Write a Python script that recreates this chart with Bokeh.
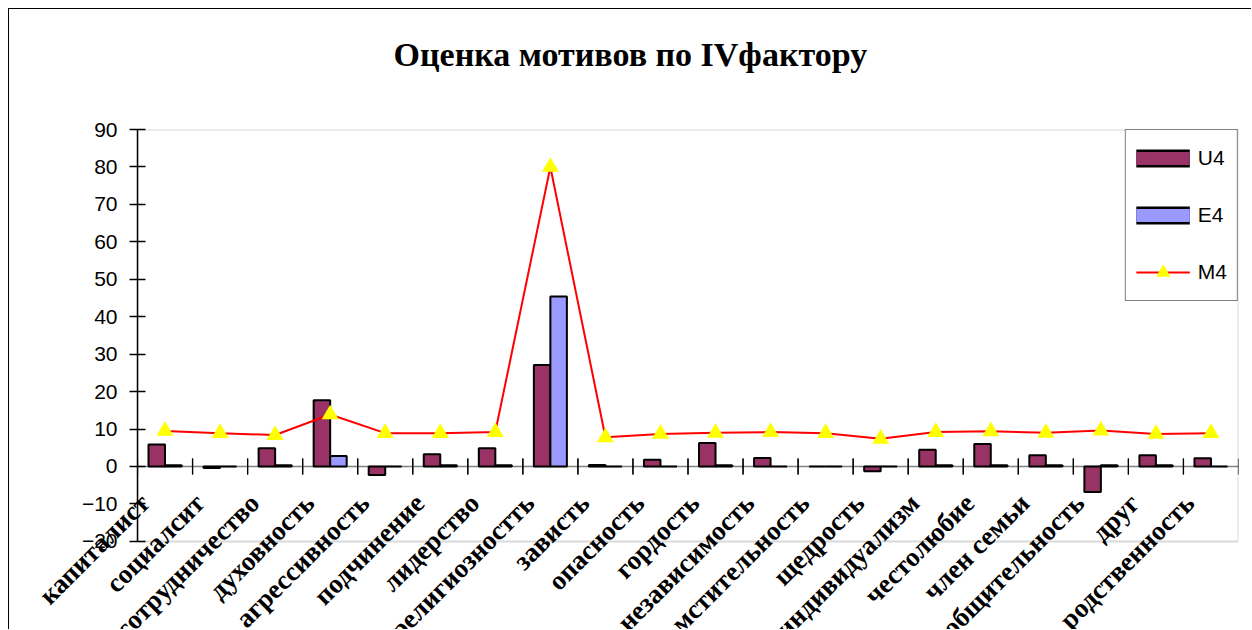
import math
from bokeh.plotting import figure
from bokeh.models import (ColumnDataSource, FactorRange, Range1d, BoxAnnotation, Title,
                          SingleIntervalTicker, Legend, LegendItem, Span)
try:
    from bokeh.models import HTMLLabelSet as CatLabelSet
except ImportError:
    from bokeh.models import LabelSet as CatLabelSet
from bokeh.core.properties import value
from bokeh.transform import dodge
from bokeh.embed import file_html
from bokeh.resources import INLINE

title_text = "Оценка мотивов по IVфактору"

categories = ["капиталист", "социалсит", "сотрудничество", "духовность", "агрессивность",
              "подчинение", "лидерство", "религиозностть", "зависть", "опасность",
              "гордость", "независимость", "мстительность", "щедрость", "индивидуализм",
              "честолюбие", "член семьи", "общительность", "друг", "родственность"]

u4 = [5.9, -0.4, 4.9, 17.7, -2.3, 3.3, 4.9, 27.1, 0.4, 1.8,
      6.3, 2.3, 0.0, -1.3, 4.5, 6.0, 3.0, -6.8, 3.0, 2.2]
e4 = [0.3, 0.0, 0.3, 2.8, 0.0, 0.3, 0.3, 45.4, 0.0, 0.0,
      0.3, 0.0, 0.0, 0.0, 0.3, 0.3, 0.3, 0.3, 0.3, 0.0]
m4 = [9.5, 8.9, 8.4, 13.9, 8.9, 8.9, 9.2, 80.0, 7.8, 8.7,
      9.0, 9.2, 8.9, 7.4, 9.2, 9.4, 9.0, 9.6, 8.7, 8.9]

series_names = ["U4", "E4", "M4"]
y_min, y_max, y_step = -20, 90, 10
y_view_bottom = -43.8   # room under the axis for the hanging category labels

U4_COLOR, E4_COLOR = "#993366", "#9999FF"

src = ColumnDataSource(dict(cat=categories, u4=u4, e4=e4, m4=m4,
                            zero=[0] * len(categories)))

p = figure(width=1243, height=621, title=None,
           x_range=FactorRange(*categories, range_padding=0),
           y_range=Range1d(y_view_bottom, y_max),
           output_backend="svg", toolbar_location=None,
           x_axis_location=None,
           min_border_left=128, min_border_right=14,
           min_border_top=120, min_border_bottom=0)

p.styles = {"margin-left": "8px", "margin-top": "8px",
            "border-left": "1px solid black", "border-top": "1px solid black"}

# spacer (closest to the frame) and the real title above it
p.add_layout(Title(text=" ", text_font_size="1px", standoff=52), "above")
p.add_layout(Title(text=title_text, align="left", offset=256, vertical_align="top",
                   standoff=0, text_font="Liberation Serif", text_font_style="bold",
                   text_font_size="34px", text_color="black"), "above")

p.xgrid.visible = False
p.ygrid.visible = False
p.outline_line_color = None
p.background_fill_color = "white"
p.border_fill_color = "white"

# plot-area border (from -20 to 90)
p.add_layout(BoxAnnotation(bottom=y_min, top=y_max, fill_color=None,
                           line_color="#808080", line_width=2, level="underlay"))

# y axis
p.yaxis.ticker = SingleIntervalTicker(interval=y_step)
p.yaxis.bounds = (y_min, y_max)
p.yaxis.major_tick_in = 8
p.yaxis.major_tick_out = 8
p.yaxis.minor_tick_in = 0
p.yaxis.minor_tick_out = 0
p.yaxis.axis_line_color = "black"
p.yaxis.axis_line_width = 1.5
p.yaxis.major_tick_line_color = "black"
p.yaxis.major_tick_line_width = 1.5
p.yaxis.major_label_text_font = "Liberation Sans"
p.yaxis.major_label_text_font_size = "21px"
p.yaxis.major_label_text_color = "black"
p.yaxis.major_label_standoff = 12

# zero line (category axis line)
p.add_layout(Span(location=0, dimension="width", line_color="#808080", line_width=1.5,
                  level="underlay"))

# category boundary tick marks at y = 0
for off in (-0.5, 0.5):
    p.scatter(x=dodge("cat", off, range=p.x_range), y="zero", marker="dash",
              angle=math.pi / 2, size=16, line_color="black", line_width=1.2, source=src)

# bars, line, markers
r_u = p.vbar(x=dodge("cat", -0.15, range=p.x_range), top="u4", bottom=0, width=0.3,
             fill_color=U4_COLOR, line_color="black", line_width=2, source=src)
r_e = p.vbar(x=dodge("cat", 0.15, range=p.x_range), top="e4", bottom=0, width=0.3,
             fill_color=E4_COLOR, line_color="black", line_width=2, source=src)
r_l = p.line(x="cat", y="m4", line_color="#FF0000", line_width=2, source=src)
r_m = p.scatter(x="cat", y="m4", marker="triangle", size=17, fill_color="#FFFF00",
                line_color=None, source=src)

# category labels hanging from the zero line
labels = CatLabelSet(x="cat", y="zero", text="cat", source=src, angle=math.pi / 4,
                     text_align="right", text_baseline="middle",
                     x_offset=-20, y_offset=-33,
                     text_font=value("Liberation Serif"), text_font_style="bold",
                     text_font_size="27px", text_color="black")
p.add_layout(labels)

# legend swatches (legend-only renderers)
sw_u_b = p.line(x="cat", y="u4", line_color="black", line_width=18, source=src, visible=False)
sw_u_f = p.line(x="cat", y="u4", line_color=U4_COLOR, line_width=13, source=src, visible=False)
sw_e_b = p.line(x="cat", y="e4", line_color="black", line_width=18, source=src, visible=False)
sw_e_f = p.line(x="cat", y="e4", line_color=E4_COLOR, line_width=13, source=src, visible=False)

legend = Legend(items=[LegendItem(label=series_names[0], renderers=[sw_u_b, sw_u_f]),
                       LegendItem(label=series_names[1], renderers=[sw_e_b, sw_e_f]),
                       LegendItem(label=series_names[2], renderers=[r_l, r_m])],
                location="top_right", margin=0, padding=10, spacing=21,
                glyph_width=54, glyph_height=36, label_standoff=8,
                label_text_font="Liberation Sans", label_text_font_size="21px",
                label_text_color="black",
                border_line_color="black", border_line_width=1,
                background_fill_color="white", background_fill_alpha=1)
p.add_layout(legend)

open("out.html", "w").write(file_html(p, INLINE))
